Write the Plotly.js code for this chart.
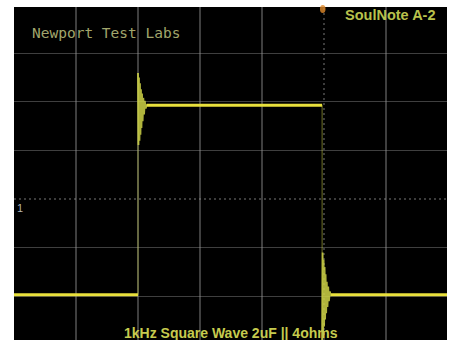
<!DOCTYPE html>
<html>
<head>
<meta charset="utf-8">
<script src="https://cdn.plot.ly/plotly-3.0.1.min.js"></script>
<style>
  html, body { margin: 0; padding: 0; background: #ffffff; }
  #scope { width: 454px; height: 340px; }
</style>
</head>
<body>
<div id="scope"></div>
<script>
// Scope capture: 1 kHz square wave into 2uF || 4 ohms.
// Time in divisions, voltage in divisions.

const edgeTimes = [2.0, 4.97];          // rising edge, falling edge
const lowLevel = -1.97;
const highLevel = 1.93;
const sweepEnd = 6.984;

// Ringing after the rising edge (offset from edge, volts)
const riseRingOffsets = [0, 0.008, 0.016, 0.024, 0.032, 0.040, 0.048, 0.056, 0.065, 0.075, 0.086, 0.098, 0.110, 0.125, 0.140];
const riseRingVolts   = [2.59, 1.11, 2.50, 1.20, 2.38, 1.32, 2.26, 1.46, 2.17, 1.60, 2.08, 1.74, 2.02, 1.86, 1.95];

// Ringing after the falling edge (offset from edge, volts)
const fallRingOffsets = [0, 0.008, 0.016, 0.024, 0.032, 0.040, 0.048, 0.056, 0.065, 0.075, 0.086, 0.098, 0.110, 0.125, 0.140];
const fallRingVolts   = [-2.95, -1.10, -2.78, -1.25, -2.62, -1.40, -2.48, -1.55, -2.35, -1.70, -2.22, -1.80, -2.10, -1.90, -2.00];

const gridX = [1, 2, 3, 4, 6];
const gridY = [-2, -1, 1, 2, 3];
const centerX = 5;
const centerY = 0;
const trigTime = 4.98;

const titleText = 'SoulNote A-2';
const labText = 'Newport Test Labs';
const captionText = '1kHz Square Wave 2uF || 4ohms';
const channelText = '1';

const traceColor = '#e8e03c';
const ringColor = '#cfd446';

const tRise = edgeTimes[0];
const tFall = edgeTimes[1];
const riseT = riseRingOffsets.map(d => tRise + d);
const fallT = fallRingOffsets.map(d => tFall + d);

const traces = [
  // low level before the rising edge
  { x: [0, tRise], y: [lowLevel, lowLevel], mode: 'lines',
    line: { color: traceColor, width: 3 } },
  // rising edge (fast, dim on screen)
  { x: [tRise, tRise], y: [lowLevel, riseRingVolts[0]], mode: 'lines',
    line: { color: ringColor, width: 1.2 }, opacity: 0.45 },
  // ringing after the rise
  { x: riseT, y: riseRingVolts, mode: 'lines',
    line: { color: ringColor, width: 1.8 }, opacity: 0.85 },
  // high level
  { x: [riseT[riseT.length - 1], tFall], y: [highLevel, highLevel], mode: 'lines',
    line: { color: traceColor, width: 3 } },
  // falling edge
  { x: [tFall, tFall], y: [highLevel, fallRingVolts[0]], mode: 'lines',
    line: { color: ringColor, width: 1.2 }, opacity: 0.45 },
  // ringing after the fall
  { x: fallT, y: fallRingVolts, mode: 'lines',
    line: { color: ringColor, width: 1.8 }, opacity: 0.85 },
  // low level after the fall
  { x: [fallT[fallT.length - 1], sweepEnd], y: [lowLevel, lowLevel], mode: 'lines',
    line: { color: traceColor, width: 3 } }
];

const gridColor = 'rgba(150,150,150,0.42)';

const layout = {
  width: 454,
  height: 340,
  margin: { l: 14, r: 7, t: 7, b: 0, pad: 0 },
  paper_bgcolor: '#ffffff',
  plot_bgcolor: '#000000',
  showlegend: false,
  xaxis: {
    range: [0, sweepEnd],
    tickvals: gridX,
    showticklabels: false,
    ticks: '',
    showgrid: true,
    gridcolor: gridColor,
    gridwidth: 1.2,
    zeroline: false,
    showline: false,
    fixedrange: true
  },
  yaxis: {
    range: [-2.9, 3.95],
    tickvals: gridY,
    showticklabels: false,
    ticks: '',
    showgrid: true,
    gridcolor: gridColor,
    gridwidth: 1.2,
    zeroline: false,
    showline: false,
    fixedrange: true
  },
  shapes: [
    // centre graticule lines, dotted
    { type: 'line', xref: 'paper', yref: 'y', x0: 0, x1: 1, y0: centerY, y1: centerY,
      line: { color: 'rgba(160,160,160,0.5)', width: 1.5, dash: '2px,3px' }, layer: 'below' },
    { type: 'line', xref: 'x', yref: 'paper', x0: centerX, x1: centerX, y0: 0, y1: 1,
      line: { color: 'rgba(160,160,160,0.5)', width: 1.5, dash: '2px,3px' }, layer: 'below' },
    // trigger position marker
    { type: 'circle', xref: 'x', yref: 'paper', x0: trigTime - 0.045, x1: trigTime + 0.045,
      y0: 0.982, y1: 1.006, fillcolor: '#e08a2a', line: { width: 0 }, opacity: 0.8 }
  ],
  annotations: [
    { text: labText, xref: 'paper', yref: 'paper', x: 0.036, y: 0.922,
      xanchor: 'left', yanchor: 'middle', showarrow: false,
      font: { family: 'DejaVu Sans Mono, monospace', size: 14.5, color: '#a2a66c' } },
    { text: '<b>' + titleText + '</b>', xref: 'paper', yref: 'paper', x: 0.98, y: 0.976,
      xanchor: 'right', yanchor: 'middle', showarrow: false,
      font: { family: 'Liberation Sans, Arial, sans-serif', size: 14.5, color: '#b9c24c' } },
    { text: '<b>' + captionText + '</b>', xref: 'paper', yref: 'paper', x: 0.502, y: 0.021,
      xanchor: 'center', yanchor: 'middle', showarrow: false,
      font: { family: 'Liberation Sans, Arial, sans-serif', size: 14, color: '#c6cb4e' } },
    { text: channelText, xref: 'paper', yref: 'y', x: 0.002, y: -0.185,
      xanchor: 'left', yanchor: 'middle', showarrow: false,
      font: { family: 'Liberation Sans, Arial, sans-serif', size: 11, color: '#b4b4b4' } }
  ]
};

Plotly.newPlot('scope', traces, layout, { displayModeBar: false, staticPlot: true });
</script>
</body>
</html>
